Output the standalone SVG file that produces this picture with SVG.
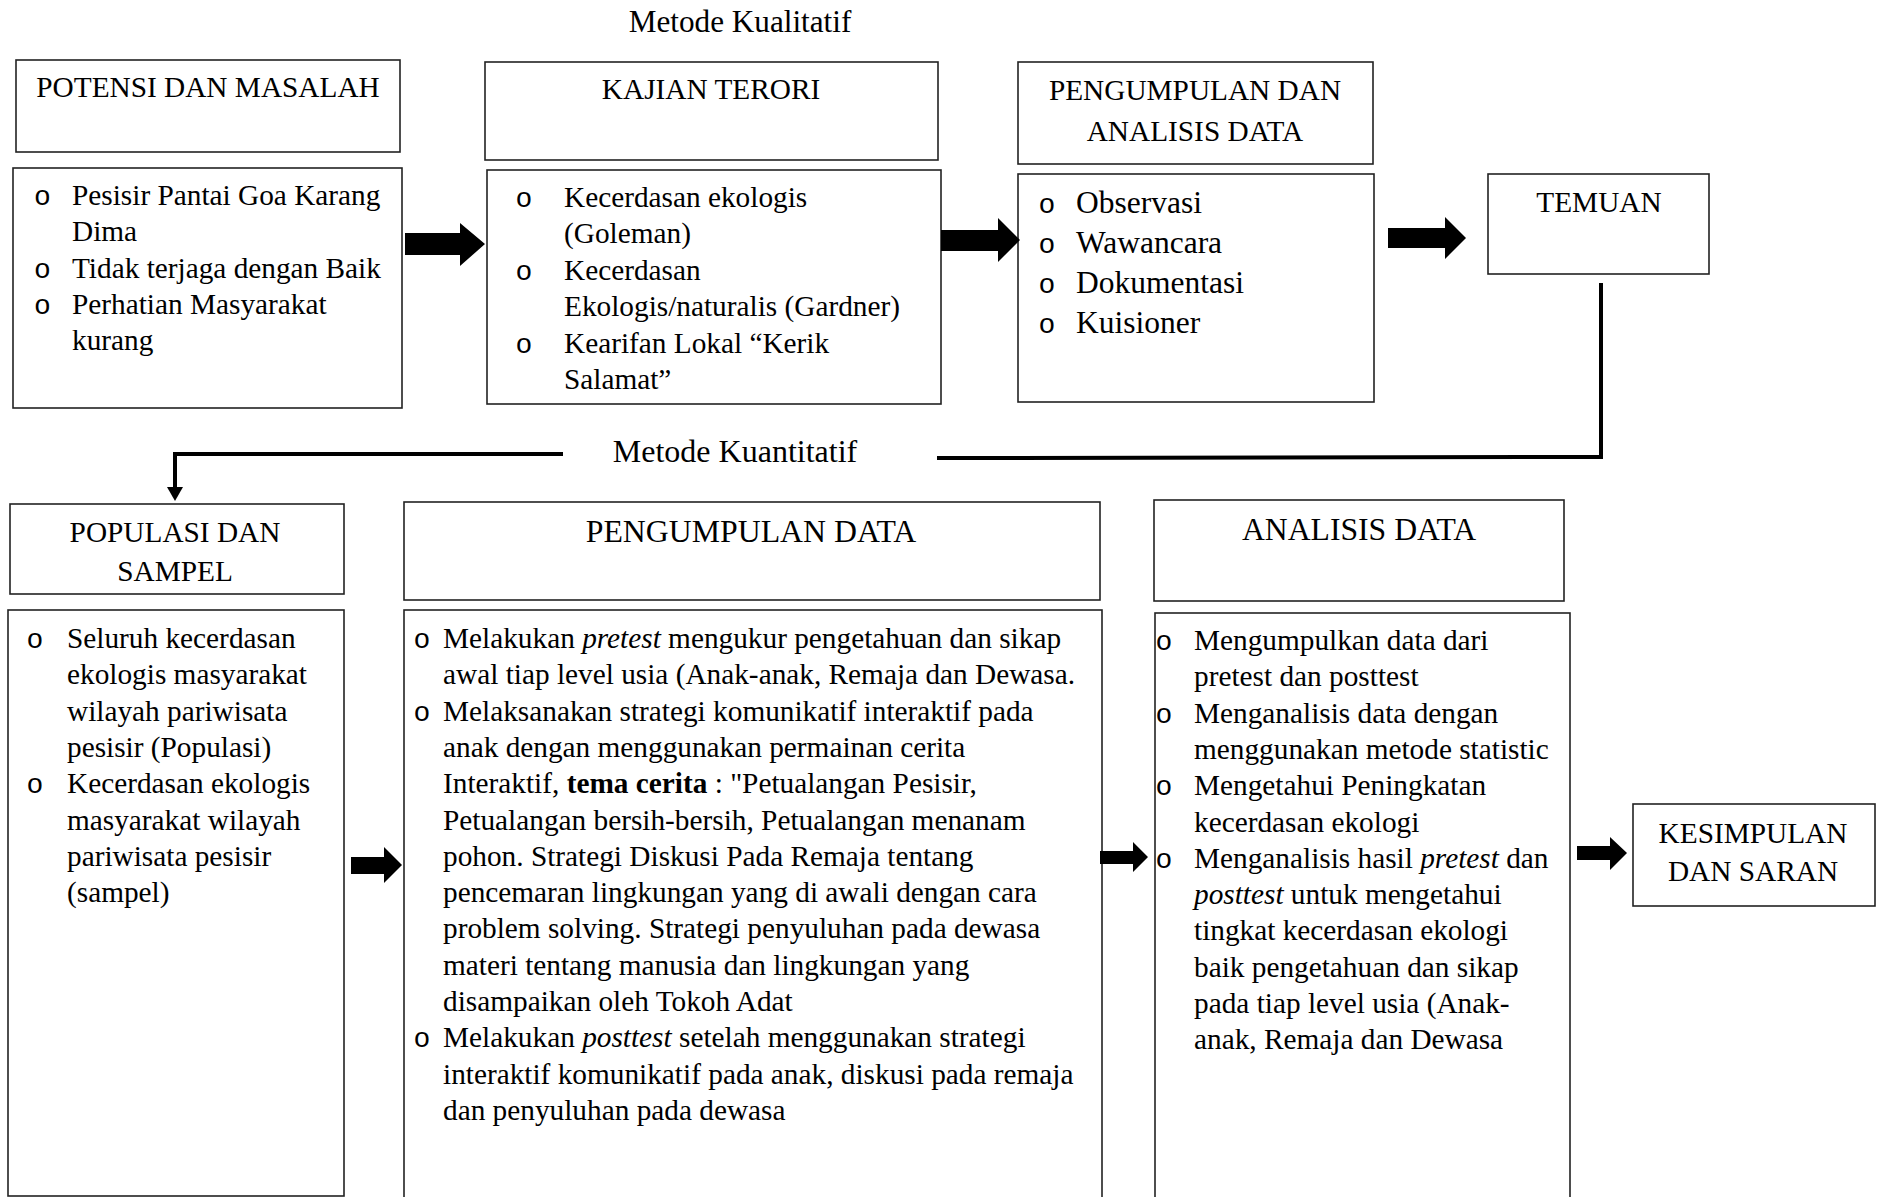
<svg xmlns="http://www.w3.org/2000/svg" width="1883" height="1197" viewBox="0 0 1883 1197">
<style>
.box{fill:#fff;stroke:#222;stroke-width:1.6}
.t{font-family:"Liberation Serif","Times New Roman",serif;font-size:29.3px;fill:#000}
.c{text-anchor:middle}
.b{font-family:"Liberation Mono","Courier New",monospace;font-size:28px;fill:#000;text-anchor:middle}
.ar{fill:#000}
.ln{fill:none;stroke:#000;stroke-width:4}
</style>
<rect width="1883" height="1197" fill="#fff"/>

<text class="t c" x="740" y="32" style="font-size:31.2px">Metode Kualitatif</text>
<text class="t c" x="735" y="462" style="font-size:32px">Metode Kuantitatif</text>

<g id="potensi">
<rect class="box" x="16" y="60" width="384" height="92"/>
<text class="t c" x="208" y="97">POTENSI DAN MASALAH</text>
<rect class="box" x="13" y="168" width="389" height="240"/>
<text class="b" x="42.5" y="205">o</text><text class="t" x="72" y="205">Pesisir Pantai Goa Karang</text>
<text class="t" x="72" y="241">Dima</text>
<text class="b" x="42.5" y="278">o</text><text class="t" x="72" y="278">Tidak terjaga dengan Baik</text>
<text class="b" x="42.5" y="314">o</text><text class="t" x="72" y="314">Perhatian Masyarakat</text>
<text class="t" x="72" y="350">kurang</text>
</g>

<g id="kajian">
<rect class="box" x="485" y="62" width="453" height="98"/>
<text class="t c" x="711" y="99">KAJIAN TERORI</text>
<rect class="box" x="487" y="170" width="454" height="234"/>
<text class="b" x="524" y="207">o</text><text class="t" x="564" y="207">Kecerdasan ekologis</text>
<text class="t" x="564" y="243">(Goleman)</text>
<text class="b" x="524" y="280">o</text><text class="t" x="564" y="280">Kecerdasan</text>
<text class="t" x="564" y="316">Ekologis/naturalis (Gardner)</text>
<text class="b" x="524" y="353">o</text><text class="t" x="564" y="353">Kearifan Lokal “Kerik</text>
<text class="t" x="564" y="389">Salamat”</text>
</g>

<g id="pengumpulan-analisis">
<rect class="box" x="1018" y="62" width="355" height="102"/>
<text class="t c" x="1195" y="100">PENGUMPULAN DAN</text>
<text class="t c" x="1195" y="141">ANALISIS DATA</text>
<rect class="box" x="1018" y="174" width="356" height="228"/>
<text class="b" x="1047" y="213">o</text><text class="t" x="1076" y="213" style="font-size:31.5px">Observasi</text>
<text class="b" x="1047" y="253">o</text><text class="t" x="1076" y="253" style="font-size:31.5px">Wawancara</text>
<text class="b" x="1047" y="293">o</text><text class="t" x="1076" y="293" style="font-size:31.5px">Dokumentasi</text>
<text class="b" x="1047" y="333">o</text><text class="t" x="1076" y="333" style="font-size:31.5px">Kuisioner</text>
</g>

<g id="temuan">
<rect class="box" x="1488" y="174" width="221" height="100"/>
<text class="t c" x="1599" y="212">TEMUAN</text>
</g>

<g id="populasi">
<rect class="box" x="10" y="504" width="334" height="90"/>
<text class="t c" x="175" y="542">POPULASI DAN</text>
<text class="t c" x="175" y="581">SAMPEL</text>
<rect class="box" x="8" y="610" width="336" height="586"/>
<text class="b" x="35" y="648">o</text><text class="t" x="67" y="648">Seluruh kecerdasan</text>
<text class="t" x="67" y="684.3">ekologis masyarakat</text>
<text class="t" x="67" y="720.6">wilayah pariwisata</text>
<text class="t" x="67" y="756.9">pesisir (Populasi)</text>
<text class="b" x="35" y="793.2">o</text><text class="t" x="67" y="793.2">Kecerdasan ekologis</text>
<text class="t" x="67" y="829.5">masyarakat wilayah</text>
<text class="t" x="67" y="865.8">pariwisata pesisir</text>
<text class="t" x="67" y="902.1">(sampel)</text>
</g>

<g id="pengumpulan-data">
<rect class="box" x="404" y="502" width="696" height="98"/>
<text class="t c" x="751" y="542" style="font-size:31.8px">PENGUMPULAN DATA</text>
<rect class="box" x="404" y="610" width="698" height="620"/>
<text class="b" x="422" y="648">o</text><text class="t" x="443" y="648">Melakukan <tspan font-style="italic">pretest</tspan> mengukur pengetahuan dan sikap</text>
<text class="t" x="443" y="684.3">awal tiap level usia (Anak-anak, Remaja dan Dewasa.</text>
<text class="b" x="422" y="720.6">o</text><text class="t" x="443" y="720.6">Melaksanakan strategi komunikatif interaktif pada</text>
<text class="t" x="443" y="756.9">anak dengan menggunakan permainan cerita</text>
<text class="t" x="443" y="793.2">Interaktif, <tspan font-weight="bold">tema cerita</tspan> : "Petualangan Pesisir,</text>
<text class="t" x="443" y="829.5">Petualangan bersih-bersih, Petualangan menanam</text>
<text class="t" x="443" y="865.8">pohon. Strategi Diskusi Pada Remaja tentang</text>
<text class="t" x="443" y="902.1">pencemaran lingkungan yang di awali dengan cara</text>
<text class="t" x="443" y="938.4">problem solving. Strategi penyuluhan pada dewasa</text>
<text class="t" x="443" y="974.7">materi tentang manusia dan lingkungan yang</text>
<text class="t" x="443" y="1011">disampaikan oleh Tokoh Adat</text>
<text class="b" x="422" y="1047.3">o</text><text class="t" x="443" y="1047.3">Melakukan <tspan font-style="italic">posttest</tspan> setelah menggunakan strategi</text>
<text class="t" x="443" y="1083.6">interaktif komunikatif pada anak, diskusi pada remaja</text>
<text class="t" x="443" y="1119.9">dan penyuluhan pada dewasa</text>
</g>

<g id="analisis-data">
<rect class="box" x="1154" y="500" width="410" height="101"/>
<text class="t c" x="1359" y="540" style="font-size:31.7px">ANALISIS DATA</text>
<rect class="box" x="1155" y="613" width="415" height="620"/>
<text class="b" x="1164" y="650">o</text><text class="t" x="1194" y="650">Mengumpulkan data dari</text>
<text class="t" x="1194" y="686.3">pretest dan posttest</text>
<text class="b" x="1164" y="722.6">o</text><text class="t" x="1194" y="722.6">Menganalisis data dengan</text>
<text class="t" x="1194" y="758.9">menggunakan metode statistic</text>
<text class="b" x="1164" y="795.2">o</text><text class="t" x="1194" y="795.2">Mengetahui Peningkatan</text>
<text class="t" x="1194" y="831.5">kecerdasan ekologi</text>
<text class="b" x="1164" y="867.8">o</text><text class="t" x="1194" y="867.8">Menganalisis hasil <tspan font-style="italic">pretest</tspan> dan</text>
<text class="t" x="1194" y="904.1"><tspan font-style="italic">posttest</tspan> untuk mengetahui</text>
<text class="t" x="1194" y="940.4">tingkat kecerdasan ekologi</text>
<text class="t" x="1194" y="976.7">baik pengetahuan dan sikap</text>
<text class="t" x="1194" y="1013">pada tiap level usia (Anak-</text>
<text class="t" x="1194" y="1049.3">anak, Remaja dan Dewasa</text>
</g>

<g id="kesimpulan">
<rect class="box" x="1633" y="804" width="242" height="102"/>
<text class="t c" x="1753" y="843">KESIMPULAN</text>
<text class="t c" x="1753" y="881">DAN SARAN</text>
</g>

<g id="connectors">
<polygon class="ar" points="405,233 460,233 460,223 485,244 460,266 460,255 405,255"/>
<polygon class="ar" points="941,230 998,230 998,218 1020,240 998,262 998,251 941,251"/>
<polygon class="ar" points="1388,228 1445,228 1445,217 1466,238 1445,259 1445,248 1388,248"/>
<polygon class="ar" points="351,857 384,857 384,847 402,865 384,883 384,874 351,874"/>
<polygon class="ar" points="1100,851 1133,851 1133,842 1148,857 1133,872 1133,864 1100,864"/>
<polygon class="ar" points="1577,846 1610,846 1610,837 1627,853 1610,870 1610,860 1577,860"/>
<polyline class="ln" points="1601,283 1601,457 937,458"/>
<polyline class="ln" points="563,454 175,454 175,488" stroke-width="3.5"/>
<polygon class="ar" points="167,487 183,487 175,501"/>
</g>
</svg>
